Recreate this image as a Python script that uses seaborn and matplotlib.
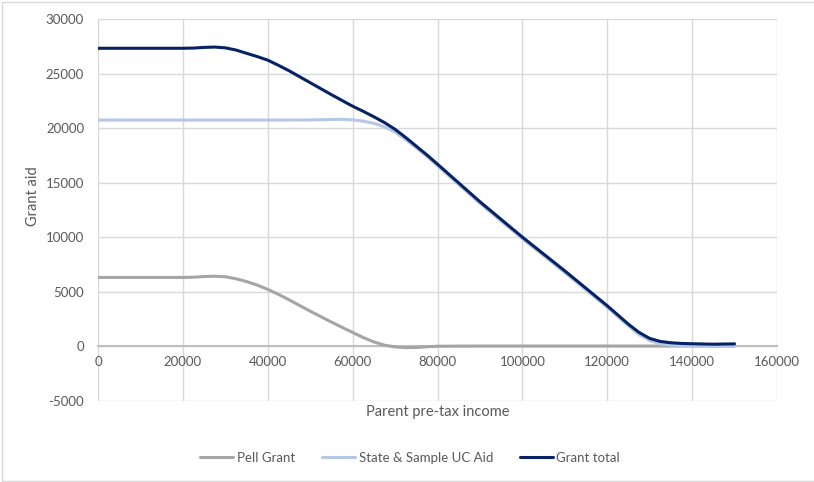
import matplotlib
matplotlib.use("Agg")
import matplotlib.pyplot as plt
from matplotlib.lines import Line2D
import seaborn as sns
import pandas as pd

# Parent pre-tax income (USD); denser sampling where the curves bend
income = [0, 10000, 20000, 22500, 25000, 27500, 30000, 32500, 35000, 37500,
          40000, 42500, 45000, 50000, 55000, 57500, 60000, 62500, 65000, 67500,
          70000, 72500, 75000, 77500, 80000, 90000, 100000, 110000, 115000, 120000,
          122500, 125000, 127500, 130000, 132500, 135000, 137500, 140000, 145000,
          150000]

pell_grant = [6300, 6300, 6300, 6320, 6380, 6410, 6360, 6180, 5920, 5600,
              5200, 4750, 4250, 3200, 2200, 1720, 1250, 780, 380, 80,
              -80, -150, -130, -60, -20, 0, 0, 0, 0, 0,
              0, 0, 0, 0, 0, 0, 0, 0, 0,
              0]

state_uc_aid = [20750, 20750, 20750, 20750, 20750, 20750, 20750, 20750, 20750, 20750,
                20750, 20750, 20750, 20760, 20800, 20820, 20760, 20650, 20450, 20120,
                19650, 18950, 18200, 17400, 16550, 13100, 9850, 6750, 5150, 3550,
                2700, 1850, 1050, 500, 200, 80, 30, 15, 10,
                20]

grant_total = [27340, 27340, 27340, 27360, 27420, 27450, 27380, 27180, 26880, 26580,
               26250, 25780, 25280, 24180, 23080, 22550, 22020, 21550, 21050, 20520,
               19900, 19150, 18350, 17550, 16700, 13250, 10000, 6900, 5300, 3700,
               2850, 2000, 1250, 700, 420, 300, 240, 210, 170,
               200]

series_names = ["Pell Grant", "State & Sample UC Aid", "Grant total"]
series_colors = ["#a5a5a5", "#b4c7e7", "#062263"]

x_ticks = [0, 20000, 40000, 60000, 80000, 100000, 120000, 140000, 160000]
y_ticks = [-5000, 0, 5000, 10000, 15000, 20000, 25000, 30000]

df = pd.concat([
    pd.DataFrame({"income": income, "aid": vals, "series": name})
    for name, vals in zip(series_names, [pell_grant, state_uc_aid, grant_total])
], ignore_index=True)

sns.set_theme(style="white")
plt.rcParams["font.family"] = ["Lato", "DejaVu Sans"]

text_color = "#595959"
grid_color = "#d9d9d9"

fig = plt.figure(figsize=(8.14, 4.82), dpi=100)
ax = fig.add_axes([98 / 814, 1 - 400.5 / 482, (777 - 98) / 814, (400.5 - 19.3) / 482])

sns.lineplot(data=df, x="income", y="aid", hue="series", hue_order=series_names,
             palette=series_colors, linewidth=2.2, legend=False, ax=ax,
             solid_capstyle="round", solid_joinstyle="round")

ax.set_xlim(0, 160000)
ax.set_ylim(-5000, 30000)
ax.set_xticks(x_ticks)
ax.set_yticks(y_ticks)
ax.set_xticklabels([str(v) for v in x_ticks])
ax.set_yticklabels([str(v) for v in y_ticks])

ax.grid(True, color=grid_color, linewidth=1.0)
ax.set_axisbelow(True)

for side in ["top", "right", "left"]:
    ax.spines[side].set_visible(False)
ax.spines["bottom"].set_position(("data", 0))
ax.spines["bottom"].set_color("#bfbfbf")
ax.spines["bottom"].set_linewidth(1.5)
ax.spines["bottom"].set_zorder(1.5)

ax.tick_params(axis="both", length=0, labelsize=9.5, colors=text_color)
ax.tick_params(axis="x", pad=7)
ax.tick_params(axis="y", pad=10)

ax.set_xlabel("Parent pre-tax income", fontsize=10.5, color=text_color)
ax.set_ylabel("Grant aid", fontsize=10.5, color=text_color)
ax.xaxis.set_label_coords(0.5, -0.012)
ax.yaxis.set_label_coords(-0.085, 0.535)

handles = [Line2D([0], [0], color=c, linewidth=2.2) for c in series_colors]
fig.legend(handles, series_names, loc="center", bbox_to_anchor=(0.504, 0.05),
           ncol=3, frameon=False, fontsize=9.5, handlelength=2.5,
           handletextpad=0.3, columnspacing=2.0, labelcolor=text_color)

# chart-area border
fig.patches.append(plt.Rectangle((1.5 / 814, 1.5 / 482), 1.2, 1 - 3 / 482,
                                 transform=fig.transFigure, fill=False,
                                 edgecolor="#d9d9d9", linewidth=1.0))

fig.savefig("out.png", dpi=100)
